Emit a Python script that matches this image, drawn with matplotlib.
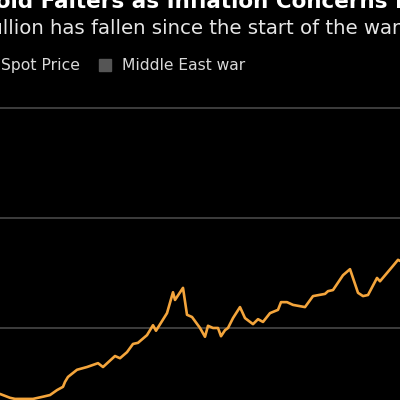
import matplotlib
matplotlib.use("Agg")
import matplotlib.pyplot as plt
from matplotlib.patches import Rectangle

# ---------------- data ----------------
title = "Gold Falters as Inflation Concerns Mount"
subtitle = "Bullion has fallen since the start of the war"
series_label = "Gold Spot Price"
band_label = "Middle East war"

# position along the time axis (arbitrary units) and price (USD/oz, estimated)
t = [0, 10, 15, 33, 43, 50, 57, 63, 65, 68, 77, 87, 98, 103, 115, 120, 127,
     133, 138, 147, 153, 156, 167, 173, 175, 183, 187, 192, 200, 205, 208,
     213, 218, 221, 225, 228, 233, 240, 245, 253, 258, 263, 270, 278, 281,
     287, 293, 305, 313, 325, 328, 333, 343, 350, 358, 363, 368, 377, 380,
     393, 398, 400]
price = [1680, 1673, 1671, 1671, 1675, 1678, 1687, 1693, 1702, 1711, 1724,
         1729, 1736, 1729, 1749, 1745, 1756, 1771, 1773, 1787, 1805, 1795,
         1827, 1865, 1851, 1873, 1824, 1820, 1800, 1784, 1804, 1800, 1800,
         1785, 1796, 1800, 1818, 1838, 1818, 1807, 1816, 1811, 1827, 1833,
         1847, 1847, 1842, 1838, 1858, 1862, 1867, 1869, 1896, 1907, 1864,
         1858, 1860, 1891, 1885, 1913, 1924, 1922]
grid_values = [1800, 2000, 2200]

# ---------------- style ----------------
BG = "#000000"
LINE = "#f4a53c"
GRID = "#4e4e4e"
W = H = 400

fig = plt.figure(figsize=(4, 4), dpi=100, facecolor=BG)
ax = fig.add_axes([0, 0, 1, 1 - 85 / H])
ax.set_facecolor(BG)
for g in grid_values:
    ax.axhline(g, color=GRID, lw=1.1, zorder=1)
ax.plot(t, price, color=LINE, lw=1.9, solid_joinstyle="round",
        solid_capstyle="round", zorder=3)
ax.set_xlim(0, 400)
ax.set_ylim(1669, 2242)
ax.axis("off")

renderer = fig.canvas.get_renderer()


def width_px(s, size, **kw):
    tx = fig.text(0, 0, s, fontsize=size, **kw)
    w = tx.get_window_extent(renderer).width
    tx.remove()
    return w


def fit_text(full, prefix, visible, x0, x1, baseline, size, **kw):
    """Place `full` so that the part after `prefix` up to `visible` spans x0..x1."""
    w_pre = width_px(prefix, size, **kw) if prefix else 0.0
    w_vis = width_px(prefix + visible, size, **kw) - w_pre
    size = size * (x1 - x0) / w_vis
    w_pre = width_px(prefix, size, **kw) if prefix else 0.0
    fig.text((x0 - w_pre) / W, 1 - baseline / H, full, fontsize=size,
             va="baseline", ha="left", **kw)


FONT = "DejaVu Sans"
fit_text(title, "Go", "ld Falters as Inflation Concerns", 10, 388, 8, 15,
         family=FONT, weight="bold", color="#ffffff")
fit_text(subtitle, "Bu", "llion has fallen since the start of the wa", 3, 396,
         34, 14, family=FONT, color="#e6e6e6")
fit_text(series_label, "Gold ", "Spot Price", 1, 80, 70, 11,
         family=FONT, color="#d9d9d9")
fit_text(band_label, "", band_label, 122, 246, 70, 11,
         family=FONT, color="#d9d9d9")
fig.patches.append(Rectangle((99 / W, 1 - 71 / H), 12 / W, 12 / H,
                             transform=fig.transFigure, color="#555555",
                             figure=fig))

fig.savefig("out.png", dpi=100, facecolor=BG)
